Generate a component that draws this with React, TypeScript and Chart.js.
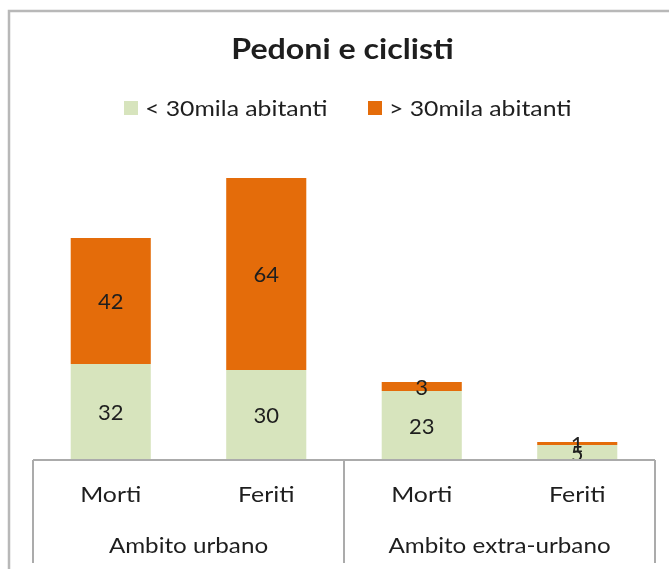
import React, { useEffect, useRef } from "react";
import { Chart, registerables } from "chart.js";

Chart.register(...registerables);

const titleText = "Pedoni e ciclisti";
const categories = ["Morti", "Feriti", "Morti", "Feriti"];
const groups = ["Ambito urbano", "Ambito extra-urbano"];
const groupSize = 2;
const seriesNames = ["< 30mila abitanti", "> 30mila abitanti"];
const smallTowns = [32, 30, 23, 5];
const largeTowns = [42, 64, 3, 1];
const seriesColors = ["#d7e4bd", "#e46c0a"];

const FONT = "Lato, 'Open Sans', sans-serif";
const TEXT = "#1e1e1e";
const AXIS = "#ababab";

function stretchText(ctx: CanvasRenderingContext2D, text: string, x: number, y: number, sx: number) {
  ctx.save();
  ctx.translate(x, y);
  ctx.scale(sx, 1);
  ctx.fillText(text, 0, 0);
  ctx.restore();
}

const overlay = {
  id: "overlay",
  beforeDraw(chart: any) {
    const ctx = chart.ctx;
    ctx.save();
    ctx.fillStyle = "#ffffff";
    ctx.fillRect(0, 0, chart.width, chart.height);
    ctx.strokeStyle = "#b8b8b8";
    ctx.lineWidth = 2.5;
    ctx.beginPath();
    ctx.moveTo(9, chart.height);
    ctx.lineTo(9, 11);
    ctx.lineTo(chart.width, 11);
    ctx.stroke();
    ctx.restore();
  },
  afterDatasetsDraw(chart: any) {
    const ctx = chart.ctx;
    const area = chart.chartArea;
    const xs = chart.scales.x;
    ctx.save();
    // title
    ctx.fillStyle = TEXT;
    ctx.font = `bold 28px ${FONT}`;
    ctx.textAlign = "center";
    ctx.textBaseline = "middle";
    stretchText(ctx, titleText, 342.5, 50, 1.15);

    // legend
    ctx.font = `21px ${FONT}`;
    ctx.textAlign = "left";
    const legendX = [124, 368];
    seriesNames.forEach((name, i) => {
      ctx.fillStyle = seriesColors[i];
      ctx.fillRect(legendX[i], 101, 14, 14);
      ctx.fillStyle = TEXT;
      stretchText(ctx, name, legendX[i] + 21, 109, 1.18);
    });

    // data labels
    ctx.font = `22px ${FONT}`;
    ctx.textAlign = "center";
    chart.data.datasets.forEach((ds: any, di: number) => {
      const meta = chart.getDatasetMeta(di);
      meta.data.forEach((bar: any, i: number) => {
        const p = bar.getProps(["x", "y", "base"], true);
        ctx.fillStyle = TEXT;
        ctx.fillText(String(ds.data[i]), p.x, (p.y + p.base) / 2 + 1);
      });
    });

    // category axis
    const n = categories.length;
    const step = (area.right - area.left) / n;
    ctx.strokeStyle = AXIS;
    ctx.lineWidth = 2;
    ctx.beginPath();
    ctx.moveTo(area.left, area.bottom);
    ctx.lineTo(area.right, area.bottom);
    for (let g = 0; g <= groups.length; g++) {
      const x = area.left + g * groupSize * step;
      ctx.moveTo(x, area.bottom);
      ctx.lineTo(x, area.bottom + 103);
    }
    ctx.stroke();

    ctx.fillStyle = TEXT;
    ctx.font = `22px ${FONT}`;
    categories.forEach((c, i) => {
      stretchText(ctx, c, xs.getPixelForValue(i), area.bottom + 35, 1.13);
    });
    groups.forEach((g, gi) => {
      const x0 = xs.getPixelForValue(gi * groupSize);
      const x1 = xs.getPixelForValue(gi * groupSize + groupSize - 1);
      stretchText(ctx, g, (x0 + x1) / 2, area.bottom + 86, 1.1);
    });
    ctx.restore();
  },
};

export default function App() {
  const ref = useRef<HTMLCanvasElement>(null);
  useEffect(() => {
    document.body.style.overflow = "hidden";
    const chart = new Chart(ref.current as HTMLCanvasElement, {
      type: "bar",
      data: {
        labels: categories,
        datasets: [
          { label: seriesNames[0], data: smallTowns, backgroundColor: seriesColors[0], borderWidth: 0 },
          { label: seriesNames[1], data: largeTowns, backgroundColor: seriesColors[1], borderWidth: 0 },
        ],
      },
      options: {
        responsive: false,
        animation: false,
        layout: { padding: { left: 33, right: 14, top: 160, bottom: 109 } },
        datasets: { bar: { categoryPercentage: 1, barPercentage: 0.515 } },
        plugins: { legend: { display: false }, title: { display: false }, tooltip: { enabled: false } },
        scales: {
          x: { stacked: true, display: false },
          y: { stacked: true, display: false, min: 0, max: 100 },
        },
      },
      plugins: [overlay],
    });
    return () => chart.destroy();
  }, []);
  return (
    <canvas
      ref={ref}
      width={669}
      height={569}
      style={{ position: "fixed", left: 0, top: 0, width: 669, height: 569 }}
    />
  );
}
